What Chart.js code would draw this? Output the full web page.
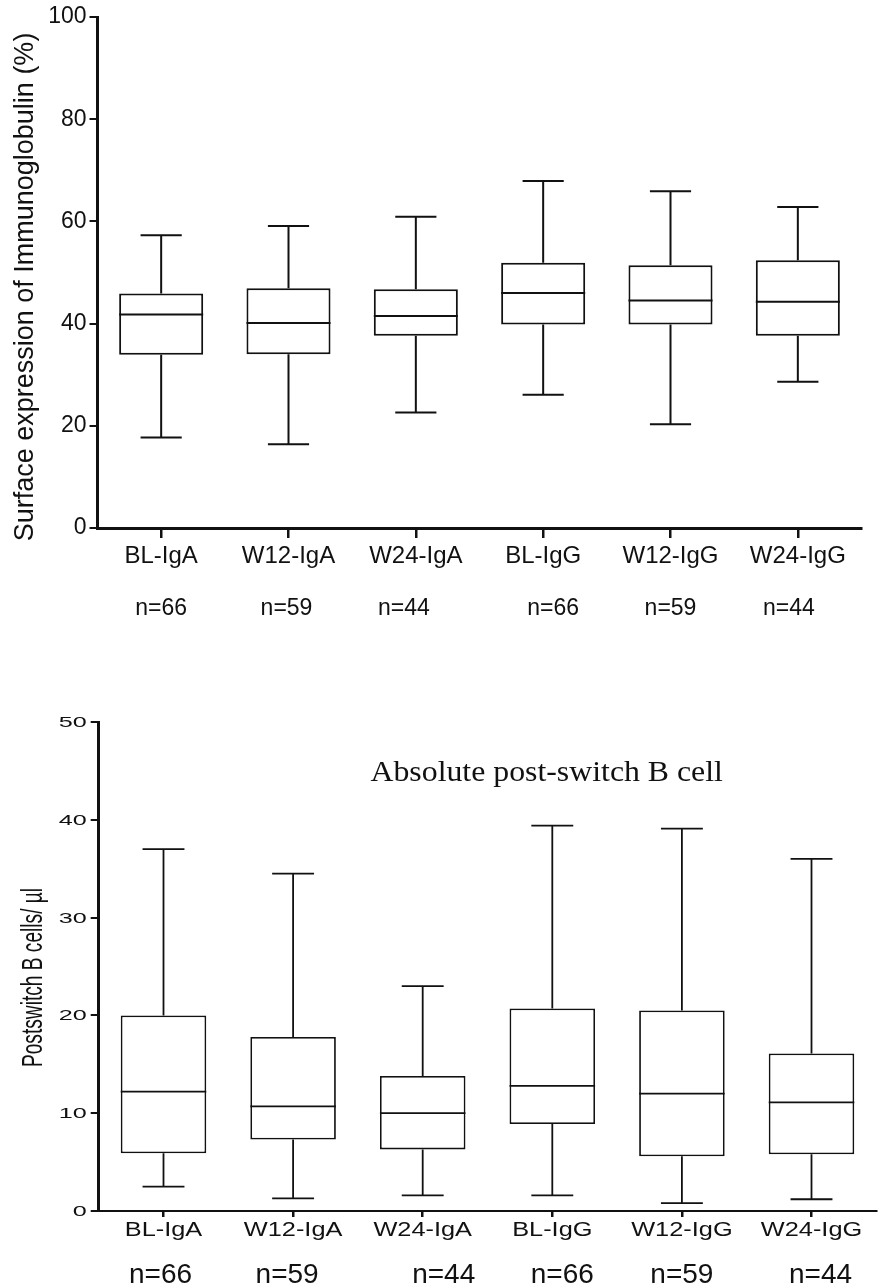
<!DOCTYPE html>
<html>
<head>
<meta charset="utf-8">
<script src="https://cdn.jsdelivr.net/npm/chart.js@4.4.1/dist/chart.umd.min.js"></script>
<style>
  html, body { margin: 0; padding: 0; background: #fff; }
  .panel { position: absolute; left: 0; width: 882px; }
  #topPanel { top: 0; height: 640px; }
  #bottomPanel { top: 640px; height: 648px; }
</style>
</head>
<body>
<div class="panel" id="topPanel"><canvas id="surfaceChart"></canvas></div>
<div class="panel" id="bottomPanel"><canvas id="absoluteChart"></canvas></div>
<script>
const groups = ["BL-IgA", "W12-IgA", "W24-IgA", "BL-IgG", "W12-IgG", "W24-IgG"];
const groupN = ["n=66", "n=59", "n=44", "n=66", "n=59", "n=44"];

// surface immunoglobulin expression (%)
const surfMin = [17.7, 16.4, 22.6, 26.1, 20.3, 28.6];
const surfQ1  = [33.9, 34.0, 37.6, 39.8, 39.8, 37.6];
const surfMed = [41.8, 40.1, 41.5, 46.0, 44.5, 44.3];
const surfQ3  = [45.9, 46.9, 46.7, 51.9, 51.4, 52.4];
const surfMax = [57.3, 59.1, 60.9, 67.9, 65.9, 62.8];
const surfTicks = [0, 20, 40, 60, 80, 100];

// absolute post-switch B cells per µl
const absMin = [2.5, 1.3, 1.6, 1.6, 0.8, 1.2];
const absQ1  = [5.9, 7.3, 6.3, 8.9, 5.6, 5.8];
const absMed = [12.2, 10.7, 10.0, 12.8, 12.0, 11.1];
const absQ3  = [20.0, 17.8, 13.8, 20.7, 20.5, 16.1];
const absMax = [37.0, 34.5, 23.0, 39.4, 39.1, 36.0];
const absTicks = [0, 10, 20, 30, 40, 50];

const INK = "#111";
const SANS = "'Liberation Sans', Arial, sans-serif";
const SERIF = "'Liberation Serif', 'Times New Roman', serif";

// little shifts of the n= labels under each group
const nShiftTop = [0, -2, -12, 10, 0, -9];
const nShiftBottom = [-3, -6, 21, 10, 0, 9];

function drawText(ctx, text, x, y, o) {
    ctx.save();
    ctx.font = o.font;
    ctx.fillStyle = INK;
    ctx.textAlign = o.align || "center";
    ctx.textBaseline = o.baseline || "alphabetic";
    ctx.translate(x, y);
    if (o.rotate) ctx.rotate(o.rotate);
    ctx.scale(o.sx || 1, 1);
    ctx.fillText(text, 0, 0);
    ctx.restore();
}

// whiskers, caps and median line on top of the floating bars
function boxWhiskers(min, med, max, q1, q3, lineWidth) {
    return {
        id: "boxWhiskers",
        afterDatasetsDraw(chart) {
            const ctx = chart.ctx;
            const y = chart.scales.y;
            const meta = chart.getDatasetMeta(0);
            ctx.save();
            ctx.strokeStyle = INK;
            ctx.lineWidth = lineWidth;
            meta.data.forEach((bar, i) => {
                const half = bar.width / 2;
                const cap = bar.width * 0.245;
                const yMin = y.getPixelForValue(min[i]);
                const yMax = y.getPixelForValue(max[i]);
                const yQ1 = y.getPixelForValue(q1[i]);
                const yQ3 = y.getPixelForValue(q3[i]);
                const yMed = y.getPixelForValue(med[i]);
                ctx.beginPath();
                ctx.moveTo(bar.x, yQ3); ctx.lineTo(bar.x, yMax);
                ctx.moveTo(bar.x - cap, yMax); ctx.lineTo(bar.x + cap, yMax);
                ctx.moveTo(bar.x, yQ1); ctx.lineTo(bar.x, yMin);
                ctx.moveTo(bar.x - cap, yMin); ctx.lineTo(bar.x + cap, yMin);
                ctx.moveTo(bar.x - half, yMed); ctx.lineTo(bar.x + half, yMed);
                ctx.stroke();
            });
            ctx.restore();
        }
    };
}

function boxDataset(q1, q3, lineWidth) {
    return {
        data: q1.map((v, i) => [v, q3[i]]),
        backgroundColor: "#fff",
        borderColor: INK,
        borderWidth: lineWidth,
        borderSkipped: false,
        categoryPercentage: 1,
        barPercentage: 0.66
    };
}

const surfaceText = {
    id: "surfaceText",
    afterDraw(chart) {
        const { ctx, chartArea: a, scales: { x } } = chart;
        drawText(ctx, "Surface expression of Immunoglobulin (%)", a.left - 64.5, a.top + 270,
            { font: "27px " + SANS, rotate: -Math.PI / 2 });
        groupN.forEach((t, i) => {
            drawText(ctx, t, x.getPixelForValue(i) + nShiftTop[i], a.bottom + 87, { font: "23px " + SANS });
        });
    }
};

const absoluteText = {
    id: "absoluteText",
    afterDraw(chart) {
        const { ctx, chartArea: a, scales: { x, y } } = chart;
        // wide axis lettering
        y.ticks.forEach((t, i) => {
            drawText(ctx, String(t.value), a.left - 12, y.getPixelForTick(i) + 5,
                { font: "14px " + SANS, align: "right", sx: 1.8 });
        });
        groups.forEach((g, i) => {
            drawText(ctx, g, x.getPixelForValue(i), a.bottom + 25, { font: "19.5px " + SANS, sx: 1.3 });
        });
        groupN.forEach((t, i) => {
            drawText(ctx, t, x.getPixelForValue(i) + nShiftBottom[i], a.bottom + 72, { font: "28px " + SANS });
        });
        drawText(ctx, "Postswitch B cells/ \u00b5l", a.left - 57, a.top + 255.5,
            { font: "29px " + SANS, rotate: -Math.PI / 2, sx: 0.66 });
        drawText(ctx, "Absolute post-switch B cell", a.left + 448, a.top + 59,
            { font: "30px " + SERIF, sx: 1.06 });
    }
};

function makeChart(canvasId, o) {
    return new Chart(document.getElementById(canvasId).getContext("2d"), {
        type: "bar",
        data: { labels: groups, datasets: [boxDataset(o.q1, o.q3, o.boxLine)] },
        options: {
            responsive: true,
            maintainAspectRatio: false,
            animation: false,
            layout: { padding: o.padding },
            plugins: { legend: { display: false }, tooltip: { enabled: false } },
            scales: {
                x: {
                    offset: true,
                    afterFit: s => { s.height = o.xHeight; },
                    border: { color: INK, width: o.xBorder },
                    grid: { offset: false, drawOnChartArea: false, tickLength: o.xTick, lineWidth: 2.5, color: INK },
                    ticks: {
                        display: o.xLabels,
                        autoSkip: false,
                        maxRotation: 0,
                        padding: 4,
                        color: INK,
                        font: { family: SANS, size: 24 }
                    }
                },
                y: {
                    min: o.ticks[0],
                    max: o.ticks[o.ticks.length - 1],
                    afterBuildTicks: s => { s.ticks = o.ticks.map(v => ({ value: v })); },
                    afterFit: s => { s.width = o.yWidth; },
                    border: { color: INK, width: 3 },
                    grid: { drawOnChartArea: false, tickLength: 8, lineWidth: 2, color: INK },
                    ticks: {
                        display: o.yLabels,
                        padding: 3,
                        color: INK,
                        font: { family: SANS, size: 23 }
                    }
                }
            }
        },
        plugins: [boxWhiskers(o.min, o.med, o.max, o.q1, o.q3, o.boxLine), o.text]
    });
}

window.onload = function () {
    makeChart("surfaceChart", {
        q1: surfQ1, q3: surfQ3, min: surfMin, med: surfMed, max: surfMax, ticks: surfTicks,
        boxLine: 2, padding: { top: 17, right: 20.5, left: 0, bottom: 0 },
        xHeight: 112, yWidth: 97.5, xBorder: 3, xTick: 10,
        xLabels: true, yLabels: true, text: surfaceText
    });
    makeChart("absoluteChart", {
        q1: absQ1, q3: absQ3, min: absMin, med: absMed, max: absMax, ticks: absTicks,
        boxLine: 1.8, padding: { top: 82, right: 5.7, left: 0, bottom: 0 },
        xHeight: 77, yWidth: 98.7, xBorder: 2, xTick: 6,
        xLabels: false, yLabels: false, text: absoluteText
    });
};
</script>
</body>
</html>
